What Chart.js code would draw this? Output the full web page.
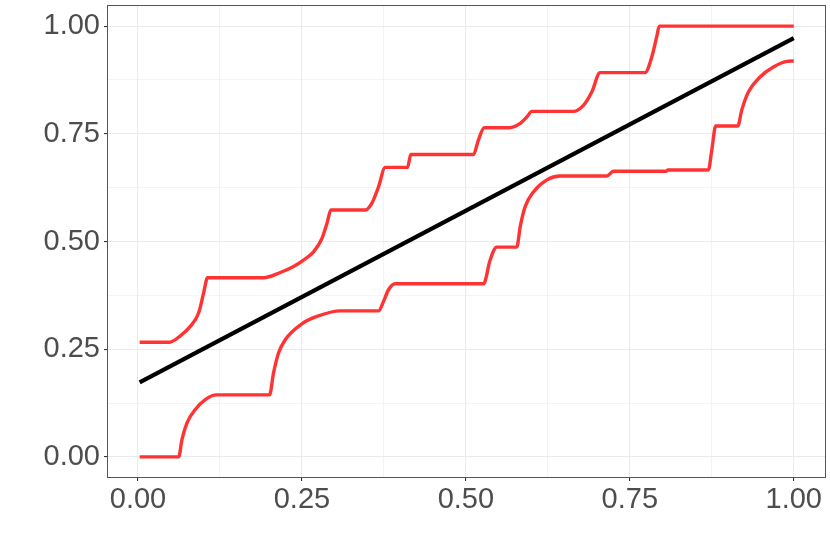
<!DOCTYPE html>
<html>
<head>
<meta charset="utf-8">
<script src="https://cdn.jsdelivr.net/npm/chart.js@4.4.1/dist/chart.umd.min.js"></script>
<style>
html,body{margin:0;padding:0;background:#fff;}
canvas{display:block;}
</style>
</head>
<body>
<canvas id="c" width="830" height="554"></canvas>
<script>
// ---- data ----
const upperX = [0.0025,0.048,0.0645,0.0797,0.0924,0.100,0.106,0.1915,0.2169,0.2372,0.2524,0.2677,0.2805,0.2881,0.2942,0.3465,0.3567,0.3668,0.377,0.411,0.416,0.5116,0.519,0.528,0.5665,0.5828,0.593,0.6006,0.664,0.6793,0.692,0.7047,0.7733,0.7835,0.791,0.795,1.0];
const upperY = [0.266,0.266,0.281,0.303,0.334,0.380,0.416,0.416,0.428,0.442,0.457,0.476,0.507,0.542,0.573,0.573,0.589,0.627,0.672,0.672,0.702,0.702,0.735,0.764,0.764,0.774,0.789,0.802,0.802,0.816,0.847,0.892,0.892,0.928,0.975,1.0,1.0];

const lowerX = [0.0025,0.062,0.067,0.0747,0.0873,0.1026,0.1194,0.2006,0.2067,0.2143,0.2245,0.25,0.2729,0.3084,0.3668,0.3744,0.382,0.392,0.527,0.537,0.547,0.5777,0.5828,0.5904,0.603,0.6235,0.6438,0.715,0.725,0.806,0.808,0.8698,0.875,0.881,0.9146,0.9207,0.9308,0.9486,0.969,0.9893,1.0];
const lowerY = [0,0,0.040,0.079,0.110,0.133,0.144,0.144,0.195,0.241,0.272,0.309,0.326,0.339,0.339,0.361,0.388,0.402,0.402,0.457,0.487,0.487,0.534,0.581,0.615,0.643,0.652,0.652,0.663,0.663,0.666,0.666,0.712,0.768,0.768,0.805,0.847,0.882,0.905,0.918,0.919];

const fitX = [0.0025,1.0];
const fitY = [0.173,0.972];

const gridTicks = [0,0.125,0.25,0.375,0.5,0.625,0.75,0.875,1];
const majorTicks = [0,0.25,0.5,0.75,1];

// ---- build ----
const pts = (xs, ys) => xs.map((x, i) => ({x: x, y: ys[i]}));
const isMajor = v => majorTicks.indexOf(v) !== -1;

const panelBorder = {
  id: 'panelBorder',
  afterDatasetsDraw(chart) {
    const a = chart.chartArea, ctx = chart.ctx;
    ctx.save();
    ctx.strokeStyle = '#555555';
    ctx.lineWidth = 1;
    ctx.strokeRect(Math.round(a.left) + 0.5, Math.round(a.top) + 0.5,
                   Math.round(a.right - a.left) - 1, Math.round(a.bottom - a.top) - 1);
    ctx.restore();
  }
};

function axis(min, max, isX) {
  return {
    type: 'linear',
    min: min, max: max,
    afterBuildTicks: s => { s.ticks = gridTicks.map(v => ({value: v})); },
    afterFit: s => {
      if (isX) s.height = 76; else s.width = 107;
      s.paddingTop = 0; s.paddingBottom = 0; s.paddingLeft = 0; s.paddingRight = 0;
    },
    border: {display: false},
    grid: {
      color: '#EBEBEB',
      lineWidth: c => (c.tick && isMajor(c.tick.value)) ? 1.1 : 0.55,
      tickColor: c => (c.tick && isMajor(c.tick.value)) ? '#333333' : 'rgba(0,0,0,0)',
      tickLength: 3,
      drawTicks: true
    },
    ticks: {
      autoSkip: false,
      maxRotation: 0,
      padding: isX ? 2 : 4,
      color: '#4D4D4D',
      font: {family: 'Liberation Sans', size: 29},
      callback: v => isMajor(v) ? v.toFixed(2) : ''
    }
  };
}

const lineStyle = {showLine: true, pointRadius: 0, cubicInterpolationMode: 'monotone', borderJoinStyle: 'round', borderCapStyle: 'butt'};

new Chart(document.getElementById('c'), {
  type: 'scatter',
  data: {
    datasets: [
      Object.assign({data: pts(upperX, upperY), borderColor: '#FF3333', borderWidth: 3.4}, lineStyle),
      Object.assign({data: pts(lowerX, lowerY), borderColor: '#FF3333', borderWidth: 3.4}, lineStyle),
      Object.assign({data: pts(fitX, fitY), borderColor: '#000000', borderWidth: 4.2}, lineStyle)
    ]
  },
  options: {
    responsive: false,
    animation: false,
    layout: {padding: {top: 5, right: 4, left: 0, bottom: 0}},
    plugins: {legend: {display: false}, tooltip: {enabled: false}},
    scales: {
      x: axis(-0.0473, 1.0492, true),
      y: axis(-0.049, 1.049, false)
    }
  },
  plugins: [panelBorder]
});
</script>
</body>
</html>
